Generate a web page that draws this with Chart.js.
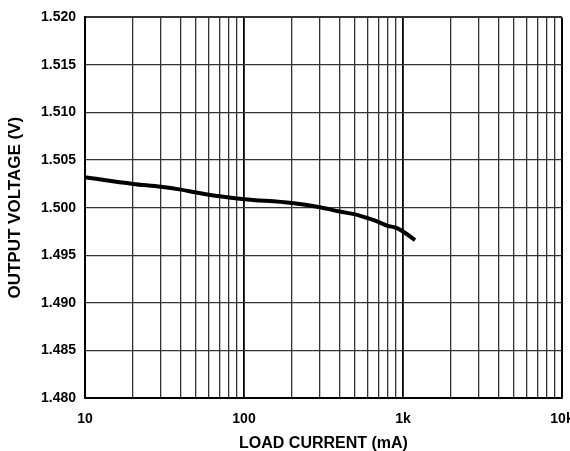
<!DOCTYPE html>
<html>
<head>
<meta charset="utf-8">
<script src="https://cdn.jsdelivr.net/npm/chart.js@4"></script>
<style>
  html, body { margin: 0; padding: 0; background: #fff; overflow: hidden; }
  #wrap { width: 570px; height: 451px; }
</style>
</head>
<body>
<div id="wrap"><canvas id="chart" width="570" height="451"></canvas></div>
<script>
// values
const loadCurrent = [10, 20, 30, 40, 50, 70, 100, 200, 300, 400, 500, 600, 700, 800, 900, 1000, 1190];
const outputVoltage = [1.5032, 1.5025, 1.5022, 1.5019, 1.5016, 1.5012, 1.5009, 1.5005, 1.50005,
                       1.4996, 1.4993, 1.4989, 1.4985, 1.4981, 1.4979, 1.4975, 1.4966];

const xTickValues = [];
[10, 100, 1000].forEach(d => {
    for (let m = 1; m <= 9; m++) xTickValues.push(d * m);
});
xTickValues.push(10000);
const xTickLabels = {10: "10", 100: "100", 1000: "1k", 10000: "10k"};

const yMin = 1.480, yMax = 1.520, yStep = 0.005;

const family = "'Liberation Sans', Arial, sans-serif";
const tickFont = { family: family, size: 14, weight: "bold" };

const points = loadCurrent.map((x, i) => ({ x: x, y: outputVoltage[i] }));

new Chart(document.getElementById("chart").getContext("2d"), {
    type: "line",
    data: {
        datasets: [{
            data: points,
            borderColor: "#000",
            borderWidth: 4,
            pointRadius: 0,
            fill: false,
            cubicInterpolationMode: "monotone"
        }]
    },
    options: {
        responsive: false,
        animation: false,
        layout: { padding: { top: 17, right: 8, left: 0, bottom: 0 } },
        plugins: { legend: { display: false }, tooltip: { enabled: false } },
        scales: {
            x: {
                type: "logarithmic",
                min: 10,
                max: 10000,
                afterBuildTicks: s => { s.ticks = xTickValues.map(v => ({ value: v })); },
                afterFit: s => { s.height = 53; s.paddingRight = 0; s.paddingLeft = 0; },
                ticks: {
                    autoSkip: false,
                    maxRotation: 0,
                    padding: 13,
                    color: "#000",
                    font: tickFont,
                    callback: v => xTickLabels[v] || ""
                },
                grid: {
                    drawTicks: false,
                    color: c => (c.tick && xTickLabels[c.tick.value]) ? "#000" : "#333",
                    lineWidth: c => {
                        const v = c.tick ? c.tick.value : 0;
                        if (v === 10000) return 2;
                        return xTickLabels[v] ? 1.8 : 1.3;
                    }
                },
                border: { display: true, color: "#000", width: 2 },
                title: {
                    display: true,
                    text: "LOAD CURRENT (mA)",
                    color: "#000",
                    font: { family: family, size: 16, weight: "bold" },
                    padding: { top: 4, bottom: -2 }
                }
            },
            y: {
                min: yMin,
                max: yMax,
                afterFit: s => { s.width = 85; },
                ticks: {
                    stepSize: yStep,
                    padding: 9,
                    color: "#000",
                    font: tickFont,
                    callback: v => v.toFixed(3)
                },
                grid: {
                    drawTicks: false,
                    color: "#333",
                    lineWidth: c => (c.tick && Math.abs(c.tick.value - yMax) < 1e-9) ? 2 : 1.3
                },
                border: { display: true, color: "#000", width: 2 },
                title: {
                    display: true,
                    text: "OUTPUT VOLTAGE (V)",
                    color: "#000",
                    font: { family: family, size: 17, weight: "bold" },
                    padding: { top: 5, bottom: 0 }
                }
            }
        }
    }
});
</script>
</body>
</html>
